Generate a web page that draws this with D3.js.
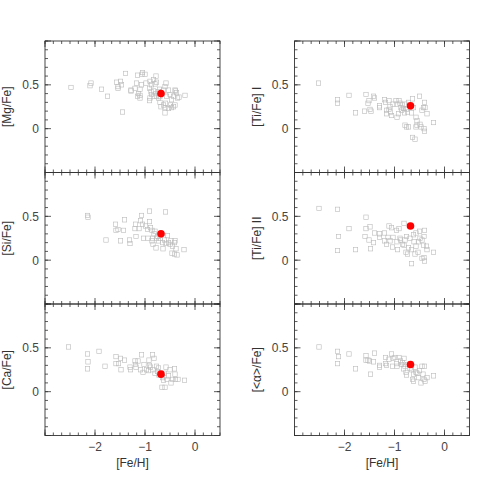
<!DOCTYPE html>
<html>
<head>
<meta charset="utf-8">
<script src="https://cdn.jsdelivr.net/npm/d3@7"></script>
<style>
  body { margin: 0; background: #fff; }
  .tickText { font-family: "Liberation Sans", Arial, sans-serif; font-size: 12px; fill: #444; }
  .axisText { font-family: "Liberation Sans", Arial, sans-serif; font-size: 12px; fill: #333; }
</style>
</head>
<body>
<div class="chart"></div>
<script>
// star samples, [ [Fe/H], [X/Fe] ]
var mgData = [[-2.48,0.47],[-2.08,0.52],[-2.10,0.49],[-1.87,0.45],[-1.75,0.37],[-1.57,0.53],[-1.49,0.54],
  [-1.47,0.50],[-1.54,0.46],[-1.54,0.48],[-1.45,0.19],[-1.39,0.63],[-1.28,0.44],[-1.28,0.43],[-1.17,0.52],
  [-1.15,0.61],[-1.05,0.64],[-1.00,0.62],[-1.06,0.62],[-1.10,0.45],[-1.13,0.40],[-1.10,0.38],[-1.15,0.37],
  [-1.10,0.35],[-1.20,0.46],[-1.07,0.50],[-0.98,0.52],[-0.90,0.54],[-0.87,0.50],[-0.78,0.60],[-0.83,0.56],
  [-0.80,0.51],[-0.77,0.53],[-0.91,0.46],[-0.88,0.42],[-0.83,0.43],[-0.87,0.39],[-0.82,0.37],[-0.90,0.35],
  [-0.91,0.32],[-0.78,0.40],[-0.77,0.37],[-0.73,0.42],[-0.71,0.45],[-0.60,0.48],[-0.58,0.52],[-0.63,0.44],
  [-0.53,0.44],[-0.57,0.37],[-0.50,0.39],[-0.40,0.44],[-0.37,0.41],[-0.43,0.37],[-0.47,0.33],[-0.35,0.35],
  [-0.32,0.36],[-0.20,0.38],[-0.40,0.27],[-0.49,0.27],[-0.59,0.29],[-0.60,0.24],[-0.68,0.25],[-0.63,0.27],
  [-0.70,0.30],[-0.60,0.18],[-0.53,0.23],[-0.43,0.25],[-0.73,0.35],[-0.70,0.37],[-0.39,0.43],[-0.47,0.24]];

var siData = [[-2.15,0.51],[-2.14,0.49],[-1.78,0.23],[-1.59,0.41],[-1.58,0.34],[-1.54,0.35],[-1.49,0.22],
  [-1.41,0.46],[-1.43,0.34],[-1.31,0.23],[-1.30,0.19],[-1.20,0.36],[-1.19,0.41],[-1.18,0.27],[-1.12,0.36],
  [-1.09,0.45],[-1.07,0.51],[-1.05,0.41],[-1.03,0.25],[-0.99,0.39],[-0.95,0.35],[-0.91,0.56],[-0.91,0.44],
  [-0.89,0.37],[-0.86,0.34],[-0.85,0.25],[-0.84,0.18],[-0.82,0.30],[-0.80,0.33],[-0.78,0.14],[-0.77,0.25],
  [-0.75,0.27],[-0.73,0.22],[-0.70,0.25],[-0.65,0.20],[-0.64,0.13],[-0.61,0.23],[-0.59,0.55],[-0.58,0.19],
  [-0.55,0.28],[-0.53,0.20],[-0.50,0.18],[-0.48,0.22],[-0.45,0.16],[-0.41,0.20],[-0.40,0.22],[-0.38,0.13],
  [-0.46,0.08],[-0.41,0.07],[-0.36,0.06],[-0.22,0.12],[-0.94,0.25],[-0.86,0.22]];

var caData = [[-2.53,0.51],[-2.15,0.43],[-2.14,0.34],[-2.15,0.26],[-1.92,0.46],[-1.80,0.29],[-1.58,0.40],
  [-1.58,0.32],[-1.53,0.32],[-1.49,0.38],[-1.41,0.36],[-1.48,0.25],[-1.30,0.28],[-1.29,0.25],[-1.20,0.35],
  [-1.19,0.31],[-1.18,0.28],[-1.14,0.35],[-1.09,0.25],[-1.07,0.42],[-1.04,0.22],[-1.02,0.31],[-0.97,0.25],
  [-0.93,0.24],[-0.92,0.36],[-0.91,0.30],[-0.89,0.28],[-0.85,0.42],[-0.82,0.38],[-0.84,0.25],[-0.80,0.21],
  [-0.77,0.29],[-0.75,0.23],[-0.73,0.27],[-0.72,0.19],[-0.65,0.16],[-0.63,0.13],[-0.61,0.21],[-0.58,0.28],
  [-0.56,0.14],[-0.66,0.05],[-0.60,0.05],[-0.53,0.18],[-0.50,0.25],[-0.48,0.10],[-0.45,0.14],[-0.41,0.26],
  [-0.40,0.20],[-0.39,0.14],[-0.34,0.14],[-0.21,0.13]];

var ti1Data = [[-2.52,0.52],[-2.14,0.33],[-2.14,0.29],[-1.91,0.38],[-1.78,0.18],[-1.60,0.20],[-1.57,0.39],
  [-1.53,0.29],[-1.51,0.32],[-1.49,0.22],[-1.47,0.20],[-1.42,0.37],[-1.40,0.35],[-1.30,0.26],[-1.30,0.24],
  [-1.20,0.33],[-1.18,0.30],[-1.16,0.21],[-1.16,0.17],[-1.11,0.32],[-1.09,0.25],[-1.08,0.19],[-1.11,0.22],
  [-1.06,0.15],[-1.03,0.28],[-0.97,0.32],[-0.95,0.28],[-0.95,0.13],[-0.92,0.17],[-0.91,0.32],[-0.89,0.29],
  [-0.87,0.24],[-0.86,0.21],[-0.84,0.27],[-0.82,0.23],[-0.80,0.18],[-0.79,0.28],[-0.79,0.04],[-0.76,0.02],
  [-0.74,0.19],[-0.72,0.02],[-0.64,0.34],[-0.62,0.24],[-0.64,-0.10],[-0.59,-0.12],[-0.57,0.13],[-0.55,0.09],
  [-0.55,0.04],[-0.57,0.02],[-0.50,0.37],[-0.49,0.05],[-0.47,0.02],[-0.45,0.21],[-0.42,0.24],[-0.40,0.30],
  [-0.39,0.24],[-0.41,0.00],[-0.40,-0.03],[-0.35,0.17],[-0.22,0.07],[-0.76,0.22],[-0.72,0.30],[-0.66,0.18]];

var ti2Data = [[-2.51,0.59],[-2.14,0.58],[-2.12,0.27],[-2.14,0.11],[-1.91,0.36],[-1.78,0.12],[-1.57,0.49],
  [-1.57,0.36],[-1.49,0.38],[-1.59,0.27],[-1.51,0.23],[-1.48,0.13],[-1.42,0.20],[-1.40,0.31],[-1.30,0.30],
  [-1.30,0.26],[-1.20,0.31],[-1.20,0.22],[-1.16,0.18],[-1.11,0.39],[-1.13,0.26],[-1.09,0.22],[-1.06,0.37],
  [-1.04,0.15],[-1.03,0.26],[-0.96,0.34],[-0.95,0.21],[-0.94,0.12],[-0.91,0.36],[-0.89,0.25],[-0.88,0.23],
  [-0.84,0.18],[-0.81,0.42],[-0.81,0.17],[-0.79,0.23],[-0.77,0.09],[-0.76,0.27],[-0.74,0.07],[-0.72,0.14],
  [-0.69,0.25],[-0.66,-0.04],[-0.66,0.12],[-0.62,0.29],[-0.61,0.21],[-0.59,0.07],[-0.57,0.16],[-0.53,0.09],
  [-0.50,0.33],[-0.49,0.25],[-0.45,0.23],[-0.42,0.17],[-0.41,0.27],[-0.40,0.34],[-0.45,0.02],[-0.41,0.03],
  [-0.40,-0.01],[-0.36,0.16],[-0.35,0.12],[-0.22,0.09],[-0.52,0.21],[-0.57,0.31]];

var alphaData = [[-2.51,0.51],[-2.14,0.46],[-2.12,0.40],[-2.14,0.32],[-1.91,0.43],[-1.78,0.26],[-1.57,0.41],
  [-1.57,0.36],[-1.53,0.36],[-1.50,0.35],[-1.48,0.20],[-1.40,0.44],[-1.42,0.34],[-1.30,0.30],[-1.30,0.28],
  [-1.18,0.39],[-1.18,0.32],[-1.16,0.30],[-1.11,0.37],[-1.06,0.43],[-1.04,0.29],[-1.03,0.38],[-0.99,0.39],
  [-0.96,0.32],[-0.95,0.29],[-0.91,0.39],[-0.88,0.35],[-0.86,0.31],[-0.84,0.33],[-0.82,0.26],[-0.81,0.38],
  [-0.79,0.29],[-0.77,0.22],[-0.76,0.19],[-0.74,0.31],[-0.66,0.25],[-0.62,0.20],[-0.64,0.14],[-0.62,0.12],
  [-0.59,0.28],[-0.55,0.21],[-0.52,0.16],[-0.50,0.24],[-0.47,0.10],[-0.45,0.29],[-0.43,0.20],[-0.41,0.14],
  [-0.40,0.29],[-0.39,0.12],[-0.35,0.16],[-0.22,0.18],[-0.69,0.27],[-0.57,0.22]];

// the target star (red dot)
var targetFeH = -0.68;
var targetVals = [0.40, 0.30, 0.20, 0.26, 0.39, 0.31];

var panelLabels = ["[Mg/Fe]", "[Si/Fe]", "[Ca/Fe]", "[Ti/Fe] I", "[Ti/Fe] II", "[<\u03b1>/Fe]"];
var panelData = [mgData, siData, caData, ti1Data, ti2Data, alphaData];

var xMajor = [-3, -2, -1, 0];
var xLabels = [-2, -1, 0];
var yMajor = [-0.5, 0, 0.5, 1];
var yLabels = [0.5, 0];

var svgWidth = 480;
var svgHeight = 480;
var colLeft = [45, 294.5];
var panelW = 175;
var rowTop = 41;
var panelH = 131.5;

var svg = d3.select(".chart")
  .append("svg")
  .attr("width", svgWidth)
  .attr("height", svgHeight);

var xScale = d3.scaleLinear().domain([-3, 0.5]).range([0, panelW]);
var yScale = d3.scaleLinear().domain([-0.5, 1.0]).range([panelH, 0]);

var xMinor = d3.range(-3, 0.5001, 1 / 6);
var yMinor = d3.range(-0.5, 1.0001, 0.1);

var fmt = d => d3.format("")(d).replace("-", "\u2212");

// inward ticks along one edge
function edgeTicks(g, values, len, horizontal, edge, dir) {
  g.selectAll(null)
    .data(values)
    .enter()
    .append("line")
    .attr("x1", d => horizontal ? xScale(d) : edge)
    .attr("x2", d => horizontal ? xScale(d) : edge + dir * len)
    .attr("y1", d => horizontal ? edge : yScale(d))
    .attr("y2", d => horizontal ? edge + dir * len : yScale(d))
    .attr("stroke", "#333")
    .attr("stroke-width", 0.8);
}

panelData.forEach((data, i) => {
  var col = Math.floor(i / 3);
  var row = i % 3;
  var g = svg.append("g")
    .attr("transform", `translate(${colLeft[col]}, ${rowTop + row * panelH})`);

  // frame
  g.append("rect")
    .attr("width", panelW)
    .attr("height", panelH)
    .attr("fill", "none")
    .attr("stroke", "#333")
    .attr("stroke-width", 0.9);

  // ticks on all four sides
  edgeTicks(g, xMinor, 3, true, panelH, -1);
  edgeTicks(g, xMajor, 6, true, panelH, -1);
  edgeTicks(g, xMinor, 3, true, 0, 1);
  edgeTicks(g, xMajor, 6, true, 0, 1);
  edgeTicks(g, yMinor, 3, false, 0, 1);
  edgeTicks(g, yMajor, 6, false, 0, 1);
  edgeTicks(g, yMinor, 3, false, panelW, -1);
  edgeTicks(g, yMajor, 6, false, panelW, -1);

  // y tick labels
  g.selectAll(".ylab")
    .data(yLabels)
    .enter()
    .append("text")
    .attr("class", "tickText")
    .attr("x", -6)
    .attr("y", d => yScale(d) + 4.5)
    .attr("text-anchor", "end")
    .text(fmt);

  if (row === 2) {
    g.selectAll(".xlab")
      .data(xLabels)
      .enter()
      .append("text")
      .attr("class", "tickText")
      .attr("x", d => xScale(d))
      .attr("y", panelH + 15)
      .attr("text-anchor", "middle")
      .text(fmt);

    g.append("text")
      .attr("class", "axisText")
      .attr("x", panelW / 2)
      .attr("y", panelH + 31)
      .attr("text-anchor", "middle")
      .text("[Fe/H]");
  }

  // stars
  g.selectAll(".star")
    .data(data)
    .enter()
    .append("rect")
    .attr("class", "star")
    .attr("x", d => xScale(d[0]) - 2.2)
    .attr("y", d => yScale(d[1]) - 2.2)
    .attr("width", 4.4)
    .attr("height", 4.4)
    .attr("fill", "none")
    .attr("stroke", "#bbb")
    .attr("stroke-width", 0.6);

  g.append("circle")
    .attr("cx", xScale(targetFeH))
    .attr("cy", yScale(targetVals[i]))
    .attr("r", 3.8)
    .attr("fill", "red");

  // y label
  g.append("text")
    .attr("class", "axisText")
    .attr("transform", `translate(-34, ${panelH / 2}) rotate(-90)`)
    .attr("text-anchor", "middle")
    .text(panelLabels[i]);
});
</script>
</body>
</html>
